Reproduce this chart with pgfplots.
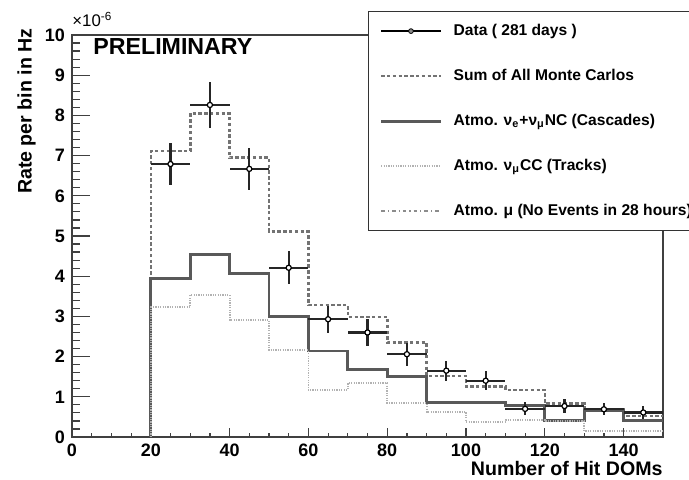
\documentclass[border=0pt]{standalone}
\usepackage{fontspec}
\setmainfont{Liberation Sans}
\usepackage{pgfplots}
\pgfplotsset{compat=1.18}
\begin{document}
\begin{tikzpicture}
\useasboundingbox (-36pt,-21pt) rectangle (308.5pt,218.5pt);
\begin{axis}[
  scale only axis, width=295.5pt, height=201pt,
  clip mode=individual,
  xmin=0, xmax=150, ymin=0, ymax=10,
  xtick={0,20,...,140}, ytick={0,1,...,10},
  minor x tick num=3, minor y tick num=4,
  tick pos=left, tick align=inside,
  major tick length=8.8pt, minor tick length=4.2pt,
  xtick style={/pgfplots/major tick length=4.7pt,/pgfplots/minor tick length=2.2pt},
  axis line style={black!75, line width=0.9pt},
  every tick/.style={black!75, line width=0.6pt},
  ticklabel style={font=\bfseries\fontsize{9}{10}\selectfont},
  /pgf/number format/assume math mode=true,
  scaled ticks=false,
  xlabel={Number of Hit DOMs},
  xlabel style={at={(axis description cs:1,-0.0945)}, anchor=base east, inner sep=0pt, font=\bfseries\fontsize{9.8}{11}\selectfont},
  ylabel={Rate per bin in Hz},
  ylabel style={at={(axis description cs:-0.0682,1.0174)}, anchor=base east, inner sep=0pt, font=\bfseries\fontsize{9.8}{11}\selectfont},
  legend image code/.code={\draw[#1] (0pt,0pt) -- (29.7pt,0pt);},
  legend style={at={(rel axis cs:0.5003,1.0597)}, anchor=north west,
    draw=black!80, line width=0.6pt, fill=white,
    font=\bfseries\fontsize{7.8}{9}\selectfont,
    inner xsep=5.8pt, inner ysep=6.25pt, row sep=15.5pt, column sep=5.8pt,
    nodes={inner sep=0pt, text height=5.5pt, text depth=1.5pt}},
  legend cell align=left,
]
\addlegendimage{legend image code/.code={
  \draw[black, line width=0.7pt] (0pt,0pt) -- (29.7pt,0pt);
  \draw[black, fill=black!45, line width=0.4pt] (14.85pt,0pt) circle (1.2pt);}}
\addlegendentry{Data ( 281 days )}

\addplot[const plot, black!55, line width=1.3pt, dash pattern=on 1.7pt off 1.2pt]
  coordinates {(20,0) (20,7.11) (30,8.05) (40,6.95) (50,5.11) (60,3.28) (70,2.99)
   (80,2.35) (90,1.52) (100,1.25) (110,1.17) (120,0.83) (130,0.69) (140,0.52) (150,0.52)};
\addlegendentry{Sum of All Monte Carlos}

\addplot[const plot, black!65, line width=1.4pt]
  coordinates {(20,0) (20,3.95) (30,4.54) (40,4.07) (50,2.99) (60,2.14) (70,1.67)
   (80,1.50) (90,0.86) (100,0.86) (110,0.79) (120,0.42) (130,0.66) (140,0.42) (150,0.42)};
\addlegendentry{Atmo. ν\textsubscript{e}+ν\textsubscript{μ}NC (Cascades)}

\addplot[const plot, black!30, line width=0.9pt, dash pattern=on 0.6pt off 0.6pt]
  coordinates {(20,0) (20,3.23) (30,3.53) (40,2.91) (50,2.16) (60,1.17) (70,1.34)
   (80,0.85) (90,0.63) (100,0.38) (110,0.42) (120,0.40) (130,0.14) (140,0.14) (150,0.14)};
\addlegendentry{Atmo. ν\textsubscript{μ}CC (Tracks)}

\addlegendimage{black!45, line width=0.9pt, dash pattern=on 1.8pt off 1.5pt on 0.6pt off 1.5pt}
\addlegendentry{Atmo. μ (No Events in 28 hours)}

\addplot[forget plot, only marks, black, line width=1.1pt, mark=*, mark size=1.3pt,
  mark options={fill=white, draw=black, line width=0.6pt},
  error bars/.cd, x dir=both, x explicit, y dir=both, y explicit,
  error bar style={line width=1.1pt, black!85}, error mark=none]
  table[x=x, y=y, x error=ex, y error=ey] {
x y ex ey
25 6.79 5 0.52
35 8.26 5 0.58
45 6.67 5 0.52
55 4.21 5 0.41
65 2.93 5 0.34
75 2.60 5 0.33
85 2.06 5 0.29
95 1.65 5 0.25
105 1.40 5 0.23
115 0.70 5 0.16
125 0.77 5 0.17
135 0.69 5 0.15
145 0.61 5 0.15
};

\node[anchor=base west, inner sep=0pt, font=\bfseries\fontsize{11.6}{13}\selectfont]
  at (rel axis cs:0.0355,0.951) {PRELIMINARY};
\node[anchor=base west, inner sep=0pt, font=\fontsize{8.4}{9}\selectfont]
  at (rel axis cs:0,1.0224) {×10\textsuperscript{-6}};
\end{axis}
\end{tikzpicture}
\end{document}
